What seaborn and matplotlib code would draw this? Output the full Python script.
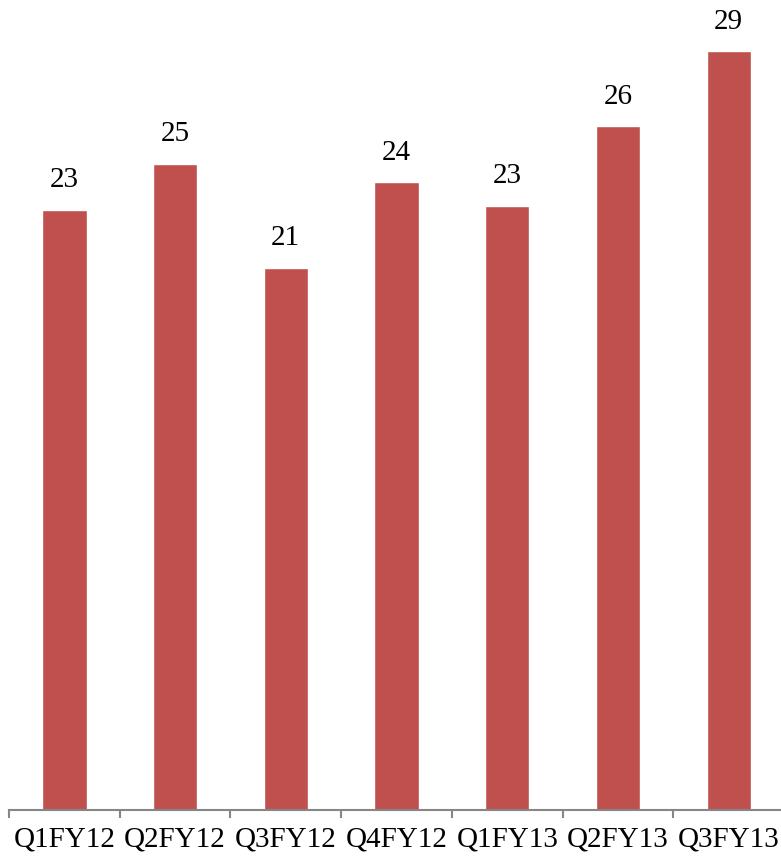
import numpy as np
import pandas as pd
import seaborn as sns
import matplotlib.pyplot as plt

sns.set_style("white")
plt.rcParams['font.family'] = ['Liberation Serif', 'DejaVu Serif']
plt.rcParams['text.color'] = 'black'
plt.rcParams['xtick.labelcolor'] = 'black'

# quarterly values (labels show them rounded)
quarters = ["Q1FY12", "Q2FY12", "Q3FY12", "Q4FY12", "Q1FY13", "Q2FY13", "Q3FY13"]
values = [22.96, 24.74, 20.75, 24.02, 23.13, 26.16, 29.04]

df = pd.DataFrame({"quarter": quarters, "value": values})

fig = plt.figure(figsize=(7.81, 8.59), dpi=100)
ax = fig.add_axes([9 / 781, 49 / 859, 775 / 781, 810 / 859])

sns.barplot(data=df, x="quarter", y="value", color="#C0504D", saturation=1,
            width=0.4, ax=ax)

ax.bar_label(ax.containers[0], fmt="%.0f", padding=12, fontsize=21,
             color="black")

ax.set_xlim(-0.5, len(quarters) - 0.5)
ax.set_ylim(0, 31)
ax.set_xlabel("")
ax.set_ylabel("")
ax.set_yticks([])

for side in ["top", "right", "left"]:
    ax.spines[side].set_visible(False)
ax.spines["bottom"].set_color("#868686")
ax.spines["bottom"].set_linewidth(1.5)

#ticks between categories, labels centred
ax.set_xticks(np.arange(-0.5, len(quarters), 1), minor=True)
ax.tick_params(axis="x", which="minor", length=6, width=1.5, color="#868686",
               direction="out", bottom=True)
ax.tick_params(axis="x", which="major", length=0, pad=12, labelsize=21,
               labelcolor="black")

plt.savefig("out.png", dpi=100)
